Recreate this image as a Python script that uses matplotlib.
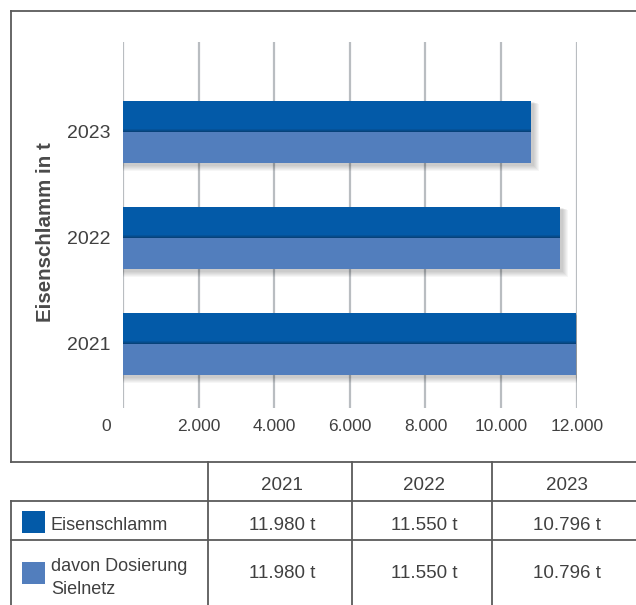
import matplotlib
matplotlib.use("Agg")
import matplotlib.pyplot as plt
from matplotlib.patches import Rectangle
from matplotlib.ticker import FuncFormatter
from matplotlib.transforms import ScaledTranslation

plt.rcParams['font.family'] = ['Liberation Sans', 'DejaVu Sans']

# Daten
years = ['2021', '2022', '2023']
eisenschlamm = [11980, 11550, 10796]
dosierung = [11980, 11550, 10796]
x_ticks = [0, 2000, 4000, 6000, 8000, 10000, 12000]
series_names = ['Eisenschlamm', 'davon Dosierung\nSielnetz']

DARK = '#035aa8'
LIGHT = '#527ebd'
TEXT = '#404040'
LINE = '#5a5a5a'
GRID = '#b9bdc1'

W, H = 636, 605
fig = plt.figure(figsize=(W / 100, H / 100), dpi=100)


def px_box(left, top, right, bottom):
    return [left / W, 1 - bottom / H, (right - left) / W, (bottom - top) / H]


def fmt_de(v):
    return f"{v:,.0f}".replace(',', '.')


# Diagramm
ax = fig.add_axes(px_box(123, 42, 576.7, 408))
ax.set_xlim(0, 12000)
ax.set_ylim(-0.604, 2.849)
for s in ax.spines.values():
    s.set_visible(False)

ypos = list(range(len(years)))
bh = 0.288
xpp = 12000 / (576.7 - 123)   # data units per pixel (x)
ypp = (2.849 + 0.604) / (408 - 42)  # data units per pixel (y)

# weicher Schatten hinter den Balkenpaaren
for y, v in zip(ypos, eisenschlamm):
    for k in range(1, 7):
        ax.add_patch(Rectangle((0, y - bh - (2 + k) * ypp), v + (2 + k) * xpp,
                               2 * bh + (2 + 0.6 * k) * ypp,
                               color='#000000', alpha=0.035, lw=0, zorder=1.5))

ax.barh([y + bh / 2 for y in ypos], eisenschlamm, height=bh, color=DARK, zorder=3)
ax.barh([y - bh / 2 for y in ypos], dosierung, height=bh, color=LIGHT, zorder=3)

# dunkle Kante an der Unterseite der oberen Balken
for y, v in zip(ypos, eisenschlamm):
    for i, a in enumerate([0.55, 0.35, 0.18]):
        ax.add_patch(Rectangle((0, y + i * ypp), v, ypp, color='#0b2f55',
                               alpha=a, lw=0, zorder=3.5))

ax.set_xticks(x_ticks)
ax.xaxis.set_major_formatter(FuncFormatter(lambda v, p: fmt_de(v)))
ax.grid(axis='x', color=GRID, lw=1.6, zorder=1)
ax.set_axisbelow(True)
ax.tick_params(axis='x', length=0, pad=8, labelsize=12.5, labelcolor=TEXT)
ax.set_yticks(ypos)
ax.set_yticklabels(years)
ax.tick_params(axis='y', length=0, pad=9, labelsize=14, labelcolor=TEXT)

fig.canvas.draw()
zero_lbl = ax.xaxis.get_major_ticks()[0].label1
zero_lbl.set_transform(zero_lbl.get_transform() + ScaledTranslation(-0.17, 0, fig.dpi_scale_trans))

# Rahmen, Tabelle und Beschriftungen in Pixelkoordinaten
ov = fig.add_axes([0, 0, 1, 1], facecolor='none')
ov.set_xlim(0, W)
ov.set_ylim(H, 0)
ov.axis('off')

lw = 1.3
ov.plot([10.5, W], [10.5, 10.5], color=LINE, lw=lw)
ov.plot([10.5, 10.5], [10.5, 462], color=LINE, lw=lw)
for yy in [462, 501, 540]:
    ov.plot([10.5, W], [yy, yy], color=LINE, lw=lw)
ov.plot([10.5, 10.5], [501, H], color=LINE, lw=lw)
col_edges = [208, 351.7, 492.4, 636.5]
for xx in col_edges[:-1]:
    ov.plot([xx, xx], [462, H], color=LINE, lw=lw)

ov.text(46, 232, 'Eisenschlamm in t', rotation=90, ha='center', va='center',
        fontsize=14.8, fontweight='bold', color='#4a4a4a')

centers = [(a + b) / 2 + 2 for a, b in zip(col_edges[:-1], col_edges[1:])]
for cx, yr, v1, v2 in zip(centers, years, eisenschlamm, dosierung):
    ov.text(cx, 485, yr, ha='center', va='center', fontsize=13.5, color=TEXT)
    ov.text(cx, 525, fmt_de(v1) + ' t', ha='center', va='center', fontsize=13.5, color=TEXT)
    ov.text(cx, 573, fmt_de(v2) + ' t', ha='center', va='center', fontsize=13.5, color=TEXT)

ov.add_patch(Rectangle((22, 511), 23, 22, color=DARK, lw=0))
ov.add_patch(Rectangle((22, 562), 23, 22, color=LIGHT, lw=0))
ov.text(51, 525, series_names[0], ha='left', va='center', fontsize=13, color=TEXT)
ov.text(51, 578, series_names[1], ha='left', va='center', fontsize=13, color=TEXT,
        linespacing=1.45)

fig.savefig('out.png', dpi=100)
